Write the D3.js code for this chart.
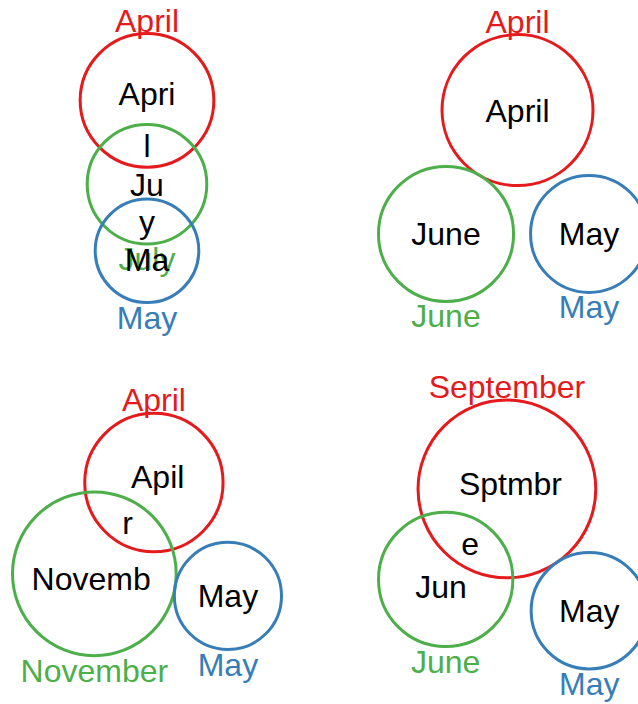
<!DOCTYPE html>
<html>
<head>
<meta charset="utf-8">
<script src="https://cdn.jsdelivr.net/npm/d3@7"></script>
<style>
    body { margin: 0; background: #fff; }
    svg { display: block; }
</style>
</head>
<body>
<div id="chart-area"></div>
<script>
// month names per panel: set 1 (red), set 2 (green), set 3 (blue)
const panel1 = ["April", "July", "May"];
const panel2 = ["April", "June", "May"];
const panel3 = ["April", "November", "May"];
const panel4 = ["September", "June", "May"];
const panels = [panel1, panel2, panel3, panel4];
const setColors = ["#e41a1c", "#4daf4a", "#377eb8"];

const svgWidth = 638;
const svgHeight = 704;
// centre of each panel cell (2 x 2 grid), and size the circles are fitted into
var cellX = [147, 513],
    cellY = [168, 534.5];
var fitSize = 269;
var fontSize = 32;

var svg = d3.select("#chart-area")
    .append("svg")
        .attr("width", svgWidth)
        .attr("height", svgHeight)
        .style("font-family", "'Liberation Sans', Arial, Helvetica, sans-serif")
        .style("font-size", fontSize + "px");

// letters of a month, case sensitive, first occurrence only
function uniqueLetters(word) {
    return Array.from(new Set(word.split("")));
}

// area shared by two circles at distance d
function overlapArea(r1, r2, d) {
    if (d >= r1 + r2) return 0;
    if (d <= Math.abs(r1 - r2)) return Math.PI * Math.pow(Math.min(r1, r2), 2);
    var a1 = r1 * r1 * Math.acos((d * d + r1 * r1 - r2 * r2) / (2 * d * r1));
    var a2 = r2 * r2 * Math.acos((d * d + r2 * r2 - r1 * r1) / (2 * d * r2));
    var tri = 0.5 * Math.sqrt((-d + r1 + r2) * (d + r1 - r2) * (d - r1 + r2) * (d + r1 + r2));
    return a1 + a2 - tri;
}

// distance giving the wanted shared area (bisection)
function distanceForArea(r1, r2, area) {
    var lo = Math.abs(r1 - r2), hi = r1 + r2;
    for (var i = 0; i < 60; i++) {
        var mid = (lo + hi) / 2;
        if (overlapArea(r1, r2, mid) > area) lo = mid; else hi = mid;
    }
    return (lo + hi) / 2;
}

function drawPanel(names, idx) {
    var letters = names.map(uniqueLetters);
    var sizes = letters.map(function(l){ return l.length; });
    var n = names.length;

    // unit layout: circle area = pi * number of letters
    var unitR = d3.scaleSqrt().domain([0, 1]).range([0, 1]);
    var r = sizes.map(unitR);

    var shared = function(i, j) {
        return letters[i].filter(function(c){ return letters[j].indexOf(c) >= 0; });
    };
    var ov = d3.range(n).map(function(i){
        return d3.range(n).map(function(j){ return i == j ? 0 : shared(i, j).length; });
    });

    var dist = d3.range(n).map(function(){ return d3.range(n).map(function(){ return 0; }); });
    var pairs = [[0, 1], [0, 2], [1, 2]];
    pairs.forEach(function(p){
        var i = p[0], j = p[1];
        if (ov[i][j] > 0) dist[i][j] = dist[j][i] = distanceForArea(r[i], r[j], Math.PI * ov[i][j]);
    });
    // disjoint sets: chained through a common set, or just touching the widest pair
    var gapD = 0;
    pairs.forEach(function(p){
        var i = p[0], j = p[1];
        if (ov[i][j] == 0) gapD = Math.max(gapD, r[i] + r[j]);
    });
    pairs.forEach(function(p){
        var i = p[0], j = p[1];
        if (ov[i][j] > 0) return;
        var k = 3 - i - j;
        if (ov[i][k] > 0 && ov[j][k] > 0) dist[i][j] = dist[j][i] = dist[i][k] + dist[k][j];
        else dist[i][j] = dist[j][i] = gapD;
    });

    // set 2 at origin, set 3 on the x axis, set 1 on top
    var pos = [];
    pos[1] = [0, 0];
    pos[2] = [dist[1][2], 0];
    var px = (dist[0][1] * dist[0][1] - dist[0][2] * dist[0][2] + dist[1][2] * dist[1][2]) / (2 * dist[1][2]);
    pos[0] = [px, -Math.sqrt(Math.max(0, dist[0][1] * dist[0][1] - px * px))];

    // rotate so the bisector of the angle at set 1 points straight down
    var u2x = (pos[1][0] - pos[0][0]) / dist[0][1], u2y = (pos[1][1] - pos[0][1]) / dist[0][1];
    var u3x = (pos[2][0] - pos[0][0]) / dist[0][2], u3y = (pos[2][1] - pos[0][1]) / dist[0][2];
    var phi = Math.PI / 2 - Math.atan2(u2y + u3y, u2x + u3x);
    var c = Math.cos(phi), s = Math.sin(phi);
    pos = pos.map(function(p){
        return [p[0] * c - p[1] * s, p[0] * s + p[1] * c];
    });

    // fit bounding box of the circles into the cell
    var bx0 = d3.min(pos, function(p, i){ return p[0] - r[i]; }),
        bx1 = d3.max(pos, function(p, i){ return p[0] + r[i]; }),
        by0 = d3.min(pos, function(p, i){ return p[1] - r[i]; }),
        by1 = d3.max(pos, function(p, i){ return p[1] + r[i]; });
    var k = fitSize / Math.max(bx1 - bx0, by1 - by0);
    var cx = cellX[idx % 2], cy = cellY[Math.floor(idx / 2)];
    var xScale = d3.scaleLinear()
        .domain([bx0, bx1])
        .range([cx - (bx1 - bx0) * k / 2, cx + (bx1 - bx0) * k / 2]);
    var yScale = d3.scaleLinear()
        .domain([by0, by1])
        .range([cy - (by1 - by0) * k / 2, cy + (by1 - by0) * k / 2]);
    var rScale = d3.scaleSqrt().domain([0, 1]).range([0, k]);

    var circles = names.map(function(name, i){
        return { name: name, x: xScale(pos[i][0]), y: yScale(pos[i][1]), r: rScale(sizes[i]), color: setColors[i] };
    });
    var centreY = d3.sum(circles, function(d){ return d.y * d.r; }) / d3.sum(circles, function(d){ return d.r; });

    // region labels (letters only in one set, and shared letters)
    var regions = [];
    circles.forEach(function(ci, i){
        var others = [];
        d3.range(n).forEach(function(j){ if (j != i) others = others.concat(letters[j]); });
        var own = letters[i].filter(function(ch){ return others.indexOf(ch) < 0; });
        var x = ci.x, y = ci.y;
        d3.range(n).forEach(function(j){
            if (j == i || ov[i][j] == 0) return;
            var cj = circles[j];
            var dd = Math.hypot(ci.x - cj.x, ci.y - cj.y);
            var push = 0.5 * ci.r * ov[i][j] / sizes[i];
            x += (ci.x - cj.x) / dd * push;
            y += (ci.y - cj.y) / dd * push;
        });
        if (own.length) regions.push({ text: own.join(""), x: x, y: y });
    });
    pairs.forEach(function(p){
        var i = p[0], j = p[1];
        if (ov[i][j] == 0) return;
        var a = circles[i], b = circles[j];
        var dd = Math.hypot(b.x - a.x, b.y - a.y);
        var ux = (b.x - a.x) / dd, uy = (b.y - a.y) / dd;
        var ex = a.x + ux * a.r, ey = a.y + uy * a.r;
        var fx = b.x - ux * b.r, fy = b.y - uy * b.r;
        regions.push({ text: shared(i, j).join(""), x: (ex + fx) / 2, y: (ey + fy) / 2 });
    });

    var g = svg.append("g").attr("class", "panel");

    // circles
    g.selectAll("circle")
        .data(circles)
        .enter()
        .append("circle")
            .attr("cx", function(d){ return d.x; })
            .attr("cy", function(d){ return d.y; })
            .attr("r", function(d){ return d.r; })
            .attr("fill", "none")
            .attr("stroke", function(d){ return d.color; })
            .attr("stroke-width", 3);

    // set names outside the circles
    g.selectAll("text.set-label")
        .data(circles)
        .enter()
        .append("text")
            .attr("class", "set-label")
            .attr("x", function(d){ return d.x; })
            .attr("y", function(d){ return d.y < centreY ? d.y - d.r - 2 : d.y + d.r + 26; })
            .attr("text-anchor", "middle")
            .attr("fill", function(d){ return d.color; })
            .text(function(d){ return d.name; });

    // letters inside
    g.selectAll("text.region-label")
        .data(regions)
        .enter()
        .append("text")
            .attr("class", "region-label")
            .attr("x", function(d){ return d.x; })
            .attr("y", function(d){ return d.y; })
            .attr("dy", "0.36em")
            .attr("text-anchor", "middle")
            .attr("fill", "#000")
            .text(function(d){ return d.text; });
}

panels.forEach(drawPanel);
</script>
</body>
</html>
